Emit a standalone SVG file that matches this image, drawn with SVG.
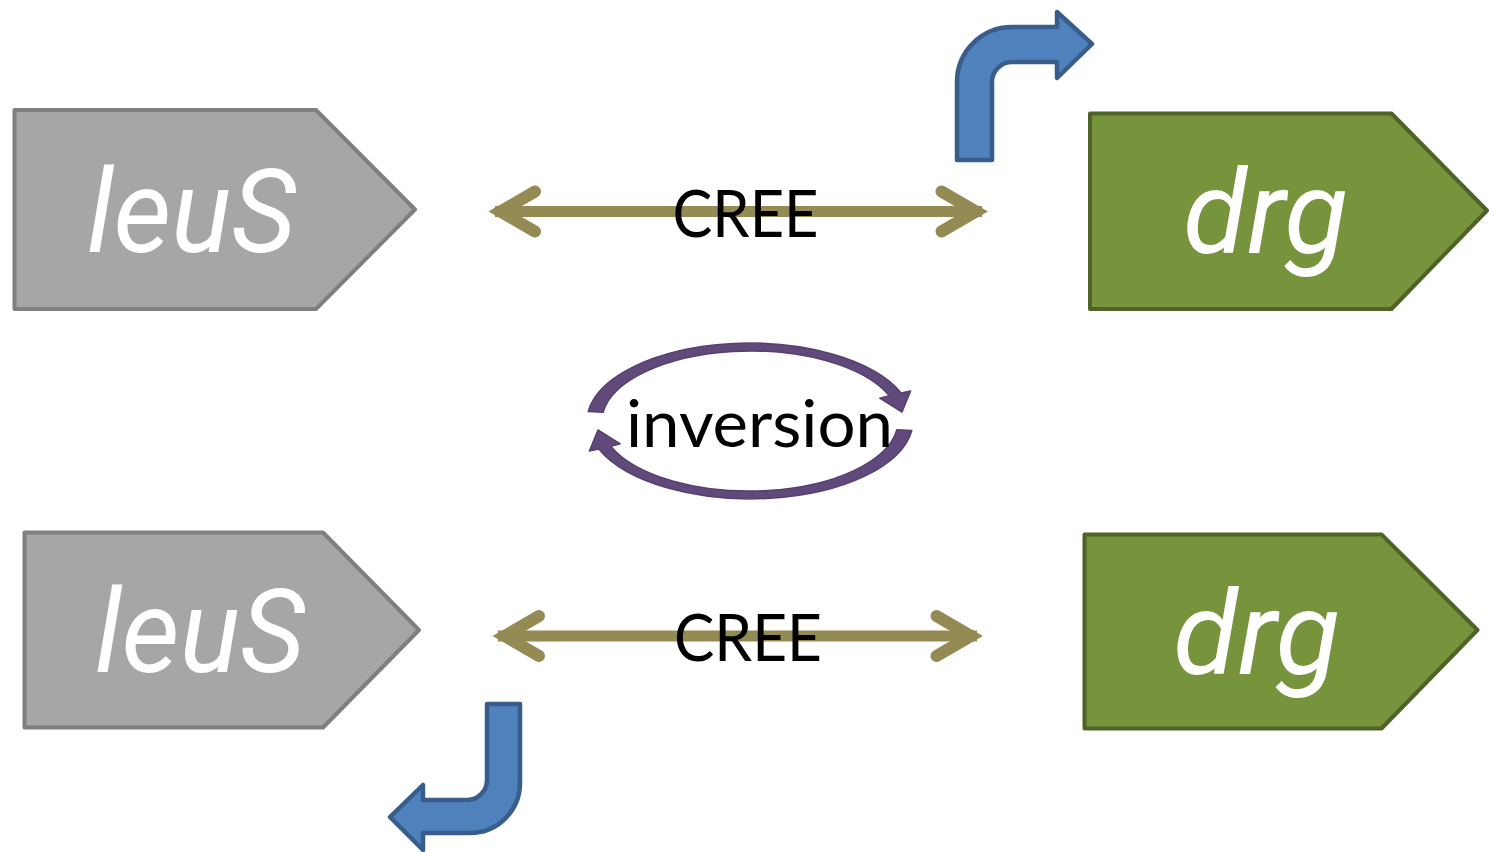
<svg xmlns="http://www.w3.org/2000/svg" width="1489" height="852" viewBox="0 0 1489 852">
<style>
.gray{fill:#a6a6a6;stroke:#7f7f7f;stroke-width:4;stroke-linejoin:round}
.green{fill:#77933c;stroke:#4f6228;stroke-width:4;stroke-linejoin:round}
.gene{font-family:Roboto,"Liberation Sans",sans-serif;font-style:italic;font-size:116px;fill:#ffffff;text-anchor:middle}
.lbl{font-family:Lato,"Open Sans","Liberation Sans",sans-serif;font-size:66px;fill:#000000;text-anchor:middle}
.shaft{stroke:#948a54;stroke-width:11;fill:none}
.head{stroke:#948a54;stroke-width:12;fill:none;stroke-linecap:round;stroke-linejoin:miter}
.bent{fill:#4f81bd;stroke:#385d8a;stroke-width:4.5;stroke-linejoin:round}
.inv{fill:#604a7b;stroke:#55406f;stroke-width:1.5;stroke-linejoin:round}
</style>
<g id="leuS-top">
<path class="gray" d="M14.5,110 L316,110 L415,209.5 L316,309 L14.5,309 Z"/>
<text class="gene" x="191.5" y="252" textLength="209" lengthAdjust="spacingAndGlyphs">leuS</text>
</g>
<g id="drg-top">
<path class="green" d="M1090,113.5 L1391.5,113.5 L1487,210.5 L1391.5,309 L1090,309 Z"/>
<text class="gene" x="1265.5" y="253" textLength="165" lengthAdjust="spacingAndGlyphs">drg</text>
</g>
<g id="leuS-bottom">
<path class="gray" d="M24.5,532.5 L323,532.5 L419,630 L323,727.5 L24.5,727.5 Z"/>
<text class="gene" x="200" y="672" textLength="210" lengthAdjust="spacingAndGlyphs">leuS</text>
</g>
<g id="drg-bottom">
<path class="green" d="M1084.5,534.5 L1381.5,534.5 L1477.5,630 L1381.5,728.5 L1084.5,728.5 Z"/>
<text class="gene" x="1256.5" y="674" textLength="167" lengthAdjust="spacingAndGlyphs">drg</text>
</g>
<g id="promoter-top">
<path class="bent" d="M957,160 L957,82 A55,55 0 0 1 1012,27 L1057,27 L1057,12 L1092,44 L1057,78 L1057,62 L1012,62 A20,20 0 0 0 992,82 L992,160 Z"/>
</g>
<g id="promoter-bottom">
<path class="bent" d="M487,704 L520,704 L520,783 A50,50 0 0 1 470,833 L423,833 L423,850 L390,817 L423,785 L423,800 L467,800 A20,20 0 0 0 487,780 Z"/>
</g>
<g id="inversion">
<path class="inv" d="M588.2,411.5 A163,79 0 0 1 901.2,393 L910.6,390.9 L902,412 L879.8,398.1 L889.1,395.6 A149,71 0 0 0 603.1,412.3 Z"/>
<path class="inv" transform="rotate(180 750 421)" d="M588.2,411.5 A163,79 0 0 1 901.2,393 L910.6,390.9 L902,412 L879.8,398.1 L889.1,395.6 A149,71 0 0 0 603.1,412.3 Z"/>
<text class="lbl" x="759.5" y="446.5" font-size="68" textLength="267" lengthAdjust="spacingAndGlyphs">inversion</text>
</g>
<g id="connectors">
<g id="cree-top">
<line class="shaft" x1="495" y1="211.5" x2="982" y2="211.5"/>
<polyline class="head" points="535,191.5 500.5,211.5 535,231.5"/>
<polyline class="head" points="941.5,191.5 976,211.5 941.5,231.5"/>
<text class="lbl" x="745.5" y="236.5" textLength="146" lengthAdjust="spacingAndGlyphs">CREE</text>
</g>
<g id="cree-bottom">
<line class="shaft" x1="498" y1="636" x2="977" y2="636"/>
<polyline class="head" points="539,616 504.5,636 539,656"/>
<polyline class="head" points="936.5,616 971,636 936.5,656"/>
<text class="lbl" x="748" y="661" textLength="148" lengthAdjust="spacingAndGlyphs">CREE</text>
</g>
</g>
</svg>
